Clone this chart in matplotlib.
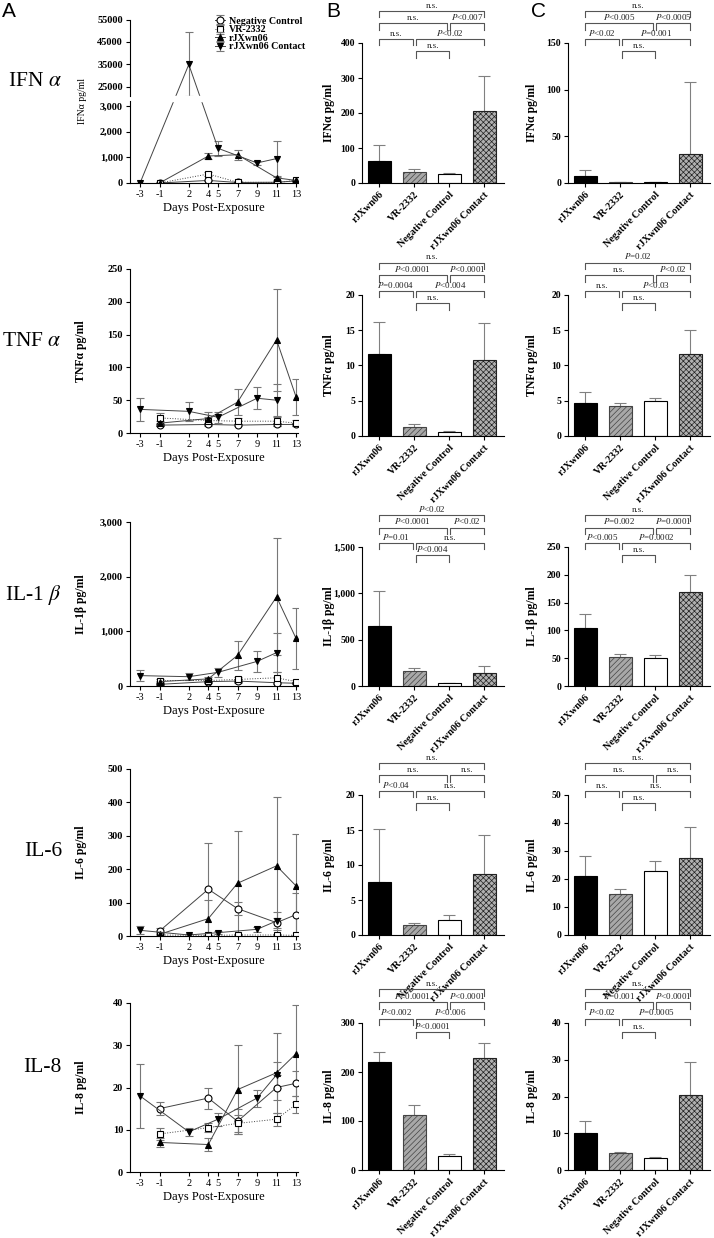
import numpy as np
import matplotlib
matplotlib.use('Agg')
import matplotlib.pyplot as plt
import matplotlib.transforms as mtransforms

plt.rcParams['font.family'] = ['Liberation Serif', 'DejaVu Serif']
plt.rcParams['mathtext.fontset'] = 'stix'
plt.rcParams['hatch.linewidth'] = 0.5

# ---- data ----
days_ctrl = [-1, 4, 7, 11, 13]       # negative control, VR-2332, rJXwn06
days_contact = [-3, 2, 5, 9, 11]     # rJXwn06 contact
day_ticks = [-3, -1, 2, 4, 5, 7, 9, 11, 13]
series_names = ['Negative Control', 'VR-2332', 'rJXwn06', 'rJXwn06 Contact']
groups = ['rJXwn06', 'VR-2332', 'Negative Control', 'rJXwn06 Contact']

# time course (panel A): mean, error
ifn_nc = [0, 100, 20, 30, 80];            ifn_nc_e = [0, 30, 10, 10, 20]
ifn_vr = [0, 350, 30, 20, 100];           ifn_vr_e = [0, 60, 10, 10, 30]
ifn_rj = [0, 1050, 1100, 200, 100];       ifn_rj_e = [0, 130, 200, 80, 40]
ifn_ct = [0, 35000, 1350, 780, 950];      ifn_ct_e = [0, 14500, 280, 60, 700]

tnf_nc = [12, 13, 12, 13, 13];            tnf_nc_e = [2, 3, 2, 3, 2]
tnf_vr = [23, 19, 18, 18, 15];            tnf_vr_e = [8, 5, 5, 8, 5]
tnf_rj = [15, 22, 47, 142, 55];           tnf_rj_e = [4, 10, 20, 78, 27]
tnf_ct = [36, 33, 24, 53, 50];            tnf_ct_e = [18, 14, 8, 17, 25]

il1_nc = [30, 80, 90, 60, 50];            il1_nc_e = [10, 20, 30, 20, 20]
il1_vr = [100, 100, 120, 150, 80];        il1_vr_e = [30, 30, 40, 100, 30]
il1_rj = [80, 130, 560, 1630, 870];       il1_rj_e = [20, 30, 260, 1070, 560]
il1_ct = [190, 170, 250, 450, 610];       il1_ct_e = [100, 60, 80, 190, 360]

il6_nc = [15, 140, 82, 40, 64];           il6_nc_e = [8, 138, 20, 15, 64]
il6_vr = [3, 2, 3, 3, 2];                 il6_vr_e = [2, 2, 2, 2, 2]
il6_rj = [5, 52, 158, 210, 150];          il6_rj_e = [3, 56, 155, 207, 154]
il6_ct = [17, 3, 10, 20, 45];             il6_ct_e = [12, 2, 5, 8, 26]

il8_nc = [15, 17.5, 12, 20, 21];          il8_nc_e = [1.5, 2.5, 3, 3, 3]
il8_vr = [9, 10.5, 11.5, 12.5, 16];       il8_vr_e = [1.5, 1, 2, 1.5, 2]
il8_rj = [7, 6.5, 19.5, 23.5, 28];        il8_rj_e = [1, 1.5, 10.5, 9.5, 11.5]
il8_ct = [18, 9.5, 12.5, 17.5, 23];       il8_ct_e = [7.5, 1, 1.5, 2, 3]

# bar panels B and C: mean, error
ifn_b = [63, 32, 25, 207];      ifn_b_e = [45, 8, 3, 100]
ifn_c = [8, 1, 0.8, 31];        ifn_c_e = [5.5, 0.3, 0.2, 77]
tnf_b = [11.6, 1.3, 0.5, 10.8]; tnf_b_e = [4.6, 0.4, 0.2, 5.2]
tnf_c = [4.7, 4.3, 4.9, 11.7];  tnf_c_e = [1.6, 0.35, 0.5, 3.4]
il1_b = [650, 160, 30, 140];    il1_b_e = [370, 35, 5, 80]
il1_c = [105, 53, 51, 169];     il1_c_e = [24, 4, 4, 30]
il6_b = [7.6, 1.4, 2.1, 8.7];   il6_b_e = [7.6, 0.3, 0.8, 5.6]
il6_c = [21, 14.6, 22.8, 27.6]; il6_c_e = [7.3, 2, 3.6, 11]
il8_b = [221, 113, 29, 228];    il8_b_e = [19, 20, 4, 32]
il8_c = [10, 4.6, 3.4, 20.5];   il8_c_e = [3.4, 0.3, 0.2, 8.8]

# significance labels: (0,1), (1,3), (1,2), (0,2), (2,3), (0,3)
P = r'$\it{P}$'
ifn_b_p = ['n.s.', P+'<0.02', 'n.s.', 'n.s.', P+'<0.007', 'n.s.']
ifn_c_p = [P+'<0.02', P+'=0.001', 'n.s.', P+'<0.005', P+'<0.0005', 'n.s.']
tnf_b_p = [P+'=0.0004', P+'<0.004', 'n.s.', P+'<0.0001', P+'<0.0001', 'n.s.']
tnf_c_p = ['n.s.', P+'<0.03', 'n.s.', 'n.s.', P+'<0.02', P+'=0.02']
il1_b_p = [P+'=0.01', 'n.s.', P+'<0.004', P+'<0.0001', P+'<0.02', P+'<0.02']
il1_c_p = [P+'<0.005', P+'=0.0002', 'n.s.', P+'=0.002', P+'=0.0001', 'n.s.']
il6_b_p = [P+'<0.04', 'n.s.', 'n.s.', 'n.s.', 'n.s.', 'n.s.']
il6_c_p = ['n.s.', 'n.s.', 'n.s.', 'n.s.', 'n.s.', 'n.s.']
il8_b_p = [P+'<0.002', P+'<0.006', P+'<0.0001', P+'<0.0001', P+'<0.0001', 'n.s.']
il8_c_p = [P+'<0.02', P+'=0.0005', 'n.s.', P+'=0.001', P+'<0.0001', 'n.s.']

W, H = 714, 1238
fig = plt.figure(figsize=(W/100, H/100), dpi=100)

def px_axes(left, top, right, bottom):
    return fig.add_axes([left/W, 1-bottom/H, (right-left)/W, (bottom-top)/H])

def style(ax):
    ax.spines['top'].set_visible(False)
    ax.spines['right'].set_visible(False)
    ax.tick_params(direction='out', length=3, width=0.8, labelsize=7.5, pad=2)
    for s in ['left', 'bottom']:
        ax.spines[s].set_linewidth(0.8)

def comma(v):
    return '{:,}'.format(int(v))

# ---- panel A : time course ----
rows_a = [
    ('IFNα pg/ml', [ifn_nc, ifn_vr, ifn_rj, ifn_ct], [ifn_nc_e, ifn_vr_e, ifn_rj_e, ifn_ct_e], None, (19.5, 183)),
    ('TNFα pg/ml', [tnf_nc, tnf_vr, tnf_rj, tnf_ct], [tnf_nc_e, tnf_vr_e, tnf_rj_e, tnf_ct_e], (250, 50), (269, 433)),
    ('IL-1β pg/ml', [il1_nc, il1_vr, il1_rj, il1_ct], [il1_nc_e, il1_vr_e, il1_rj_e, il1_ct_e], (3000, 1000), (522, 686)),
    ('IL-6 pg/ml', [il6_nc, il6_vr, il6_rj, il6_ct], [il6_nc_e, il6_vr_e, il6_rj_e, il6_ct_e], (500, 100), (769, 936)),
    ('IL-8 pg/ml', [il8_nc, il8_vr, il8_rj, il8_ct], [il8_nc_e, il8_vr_e, il8_rj_e, il8_ct_e], (40, 10), (1003, 1172)),
]
markers = [dict(marker='o', mfc='white', mec='black', ls='-'),
           dict(marker='s', mfc='white', mec='black', ls=':'),
           dict(marker='^', mfc='black', mec='black', ls='-'),
           dict(marker='v', mfc='black', mec='black', ls='-')]

# broken y scale for IFN alpha (pixel-based piecewise mapping)
def fwd(y):
    y = np.asarray(y, float)
    return np.where(y <= 3200, y*0.0257,
                    np.where(y <= 21000, 82.24 + (y-3200)*4.8/17800, 87.04 + (y-21000)*0.00225))

def inv(p):
    p = np.asarray(p, float)
    return np.where(p <= 82.24, p/0.0257,
                    np.where(p <= 87.04, 3200 + (p-82.24)*17800/4.8, 21000 + (p-87.04)/0.00225))

for r, (ylab, vals, errs, yscale, (top, bot)) in enumerate(rows_a):
    ax = px_axes(130, top, 298, bot)
    style(ax)
    handles = []
    for k in range(4):
        d = days_contact if k == 3 else days_ctrl
        h = ax.errorbar(d, vals[k], yerr=errs[k], color='#444444', lw=0.7, ms=5,
                        ecolor='#777777', elinewidth=0.8, capsize=3, capthick=0.8,
                        mew=0.8, label=series_names[k], **markers[k])
        handles.append(h)
    ax.set_xlim(-4.03, 13.2)
    ax.set_xticks(day_ticks)
    ax.set_xticklabels([str(d) for d in day_ticks], fontsize=7.5)
    ax.set_xlabel('Days Post-Exposure', fontsize=9, labelpad=2)
    if r == 0:
        ax.set_yscale('function', functions=(fwd, inv))
        ax.set_ylim(0, 55000)
        yt = [0, 1000, 2000, 3000, 25000, 35000, 45000, 55000]
        ax.set_yticks(yt)
        ax.set_yticklabels([comma(v) if v <= 3000 else str(v) for v in yt],
                           fontsize=7.5, fontweight='bold')
        ax.spines['left'].set_visible(False)
        ax.axhspan(3200, 21000, color='white', zorder=2.5)
        yt_tr = ax.get_yaxis_transform()
        ax.plot([0, 0], [0, 3200], transform=yt_tr, color='black', lw=0.8, clip_on=False, zorder=3)
        ax.plot([0, 0], [21000, 55000], transform=yt_tr, color='black', lw=0.8, clip_on=False, zorder=3)
        ax.set_ylabel(ylab, fontsize=7)
        leg = ax.legend(handles, series_names, loc='upper left', bbox_to_anchor=(0.48, 1.04),
                        frameon=False, fontsize=7.2, handlelength=1.0, handletextpad=0.4,
                        labelspacing=-0.05, borderaxespad=0)
        for t in leg.get_texts():
            t.set_fontweight('bold')
    else:
        ymax, step = yscale
        ax.set_ylim(0, ymax)
        yt = np.arange(0, ymax + step/2, step)
        ax.set_yticks(yt)
        labs = [comma(v) if ymax >= 1000 else str(int(v)) for v in yt]
        ax.set_yticklabels(labs, fontsize=7.5, fontweight='bold')
        ax.set_ylabel(ylab, fontsize=8.5, fontweight='bold')
    ax.yaxis.set_label_coords(-0.255, 0.5)

# ---- panels B and C : bars ----
bar_styles = [dict(facecolor='black', edgecolor='black', hatch=None),
              dict(facecolor='#a8a8a8', edgecolor='#444444', hatch='//////'),
              dict(facecolor='white', edgecolor='black', hatch=None),
              dict(facecolor='#b0b0b0', edgecolor='#222222', hatch='xxxxxx')]

pairs = [(0, 1), (1, 3), (1, 2), (0, 2), (2, 3), (0, 3)]
levels = [1.03, 1.03, 0.94, 1.14, 1.14, 1.23]
offs = [(0, -0.04), (0.06, 0), (0.06, 0), (0, -0.07), (0.03, 0), (0, 0)]

def brackets(ax, labels):
    tr = mtransforms.blended_transform_factory(ax.transData, ax.transAxes)
    for (a, b), lev, (da, db), lab in zip(pairs, levels, offs, labels):
        x0, x1 = a + da, b + db
        ax.plot([x0, x0, x1, x1], [lev-0.045, lev, lev, lev-0.045], transform=tr,
                color='#555555', lw=0.8, clip_on=False)
        ax.text((x0+x1)/2, lev+0.008, lab, transform=tr, ha='center', va='bottom',
                fontsize=6.5, color='#222222')

rows_b = [
    ('IFNα pg/ml', ifn_b, ifn_b_e, ifn_b_p, (400, 100), ifn_c, ifn_c_e, ifn_c_p, (150, 50), (43, 183)),
    ('TNFα pg/ml', tnf_b, tnf_b_e, tnf_b_p, (20, 5), tnf_c, tnf_c_e, tnf_c_p, (20, 5), (295, 436)),
    ('IL-1β pg/ml', il1_b, il1_b_e, il1_b_p, (1500, 500), il1_c, il1_c_e, il1_c_p, (250, 50), (547, 686)),
    ('IL-6 pg/ml', il6_b, il6_b_e, il6_b_p, (20, 5), il6_c, il6_c_e, il6_c_p, (50, 10), (795, 935)),
    ('IL-8 pg/ml', il8_b, il8_b_e, il8_b_p, (300, 100), il8_c, il8_c_e, il8_c_p, (40, 10), (1023, 1170)),
]

xpos = np.arange(len(groups))
for ylab, bv, be, bp, bs, cv, ce, cp, cs, (top, bot) in rows_b:
    for left, right, v, e, p, (ymax, step), lx in [(362, 504, bv, be, bp, bs, -0.19),
                                                   (568, 710, cv, ce, cp, cs, -0.21)]:
        ax = px_axes(left, top, right, bot)
        style(ax)
        ax.errorbar(xpos, v, yerr=[np.zeros(len(e)), e], fmt='none', ecolor='#808080',
                    elinewidth=0.8, capsize=4, capthick=0.8, zorder=1)
        for i in range(len(groups)):
            ax.bar(xpos[i], v[i], width=0.66, linewidth=0.8, zorder=2, **bar_styles[i])
        ax.set_xlim(-0.49, 3.57)
        ax.set_ylim(0, ymax)
        yt = np.arange(0, ymax + step/2, step)
        ax.set_yticks(yt)
        ax.set_yticklabels([comma(t) if ymax >= 1000 else str(int(t)) for t in yt],
                           fontsize=7, fontweight='bold')
        ax.set_xticks(xpos)
        ax.set_xticklabels(groups, rotation=45, ha='right', rotation_mode='anchor',
                           fontsize=7.3, fontweight='bold')
        ax.set_ylabel(ylab, fontsize=8.5, fontweight='bold')
        ax.yaxis.set_label_coords(lx, 0.5)
        brackets(ax, p)

# row labels and panel letters
row_labels = ['IFN $\\alpha$', 'TNF $\\alpha$', 'IL-1 $\\beta$', 'IL-6', 'IL-8']
row_y = [82, 342, 595, 852, 1067]
for lab, y in zip(row_labels, row_y):
    fig.text(62/W, 1-y/H, lab, ha='right', va='center', fontsize=15.5)
for lab, x in zip(['A', 'B', 'C'], [2, 326, 531]):
    fig.text(x/W, 1-2/H, lab, ha='left', va='top', fontsize=15, family='Liberation Sans')

fig.savefig('out.png', dpi=100)
